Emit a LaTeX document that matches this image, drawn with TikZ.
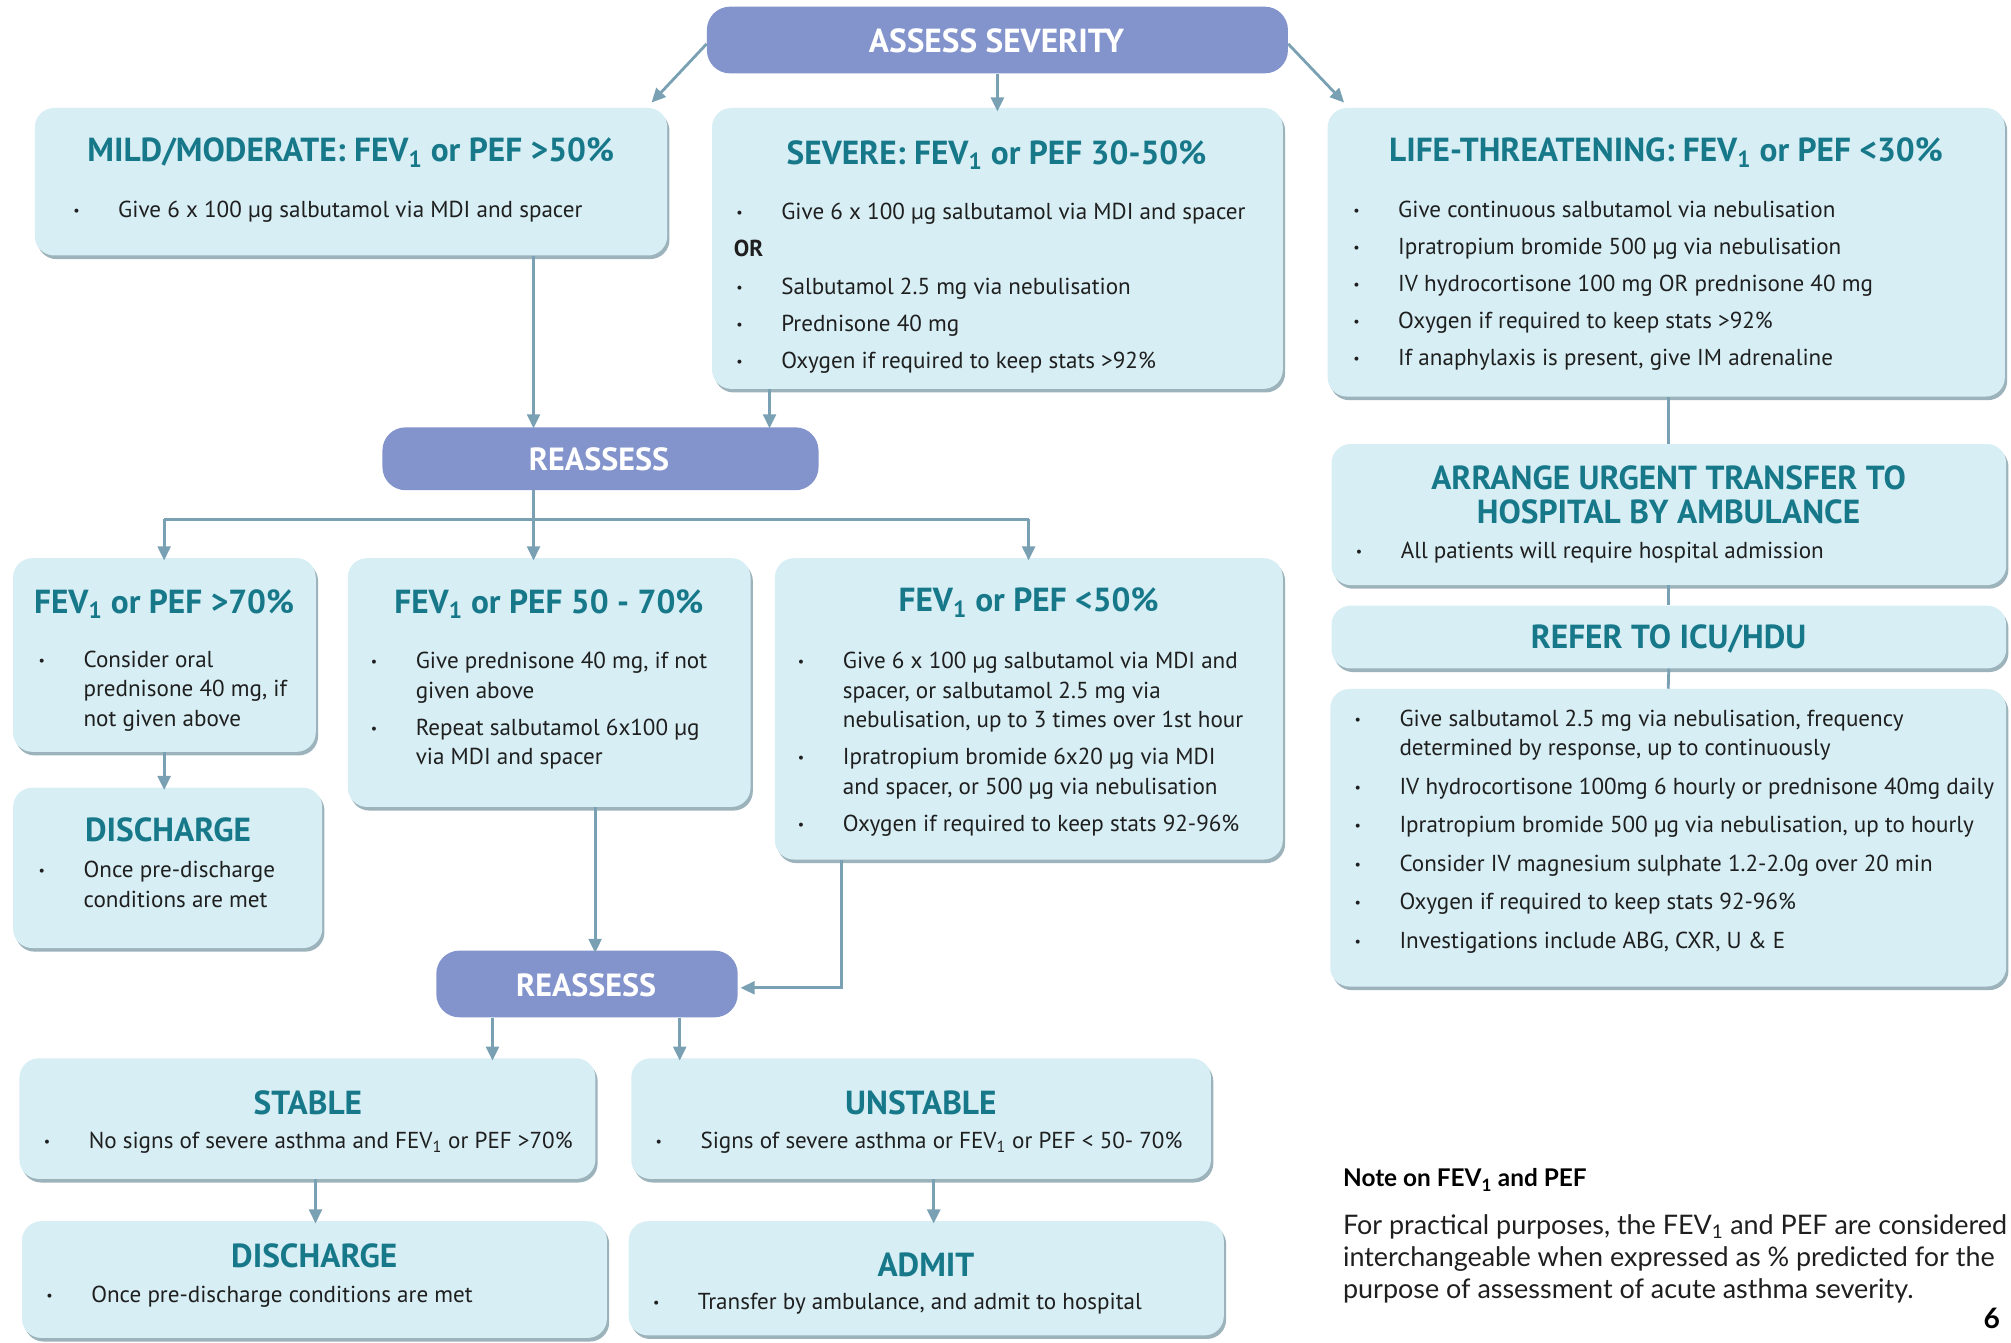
\documentclass[tikz,border=0pt]{standalone}
\usepackage{fontspec}
\setmainfont{PT Sans}
\newfontfamily\bodyf{PT Sans}
\newfontfamily\headf{PT Sans}
\newfontfamily\notef{Lato}
\usetikzlibrary{arrows.meta,shadows}
\definecolor{boxfill}{HTML}{D6EEF4}
\definecolor{shadowcol}{HTML}{9DB3BB}
\definecolor{titlecol}{HTML}{17788A}
\definecolor{purp}{HTML}{8394CC}
\definecolor{arrowcol}{HTML}{7AA1B3}
\definecolor{textcol}{HTML}{1F1F1F}
\newcommand\bi{\strut\makebox[35pt][l]{\raisebox{1.5pt}{\fontsize{11}{11}\selectfont\textbullet}}}
\newcommand\ci{\strut\hspace*{35pt}}
\tikzset{
 box/.style={fill=boxfill, rounded corners=15pt, anchor=north west, inner sep=0pt,
   drop shadow={shadow xshift=1.8pt, shadow yshift=-2.8pt, fill=shadowcol, opacity=1}},
 pbox/.style={fill=purp, rounded corners=18pt, anchor=north west, inner sep=0pt},
 ttl/.style={anchor=base, inner sep=0pt, text=titlecol, font=\headf\bfseries\fontsize{26}{28}\selectfont},
 ptl/.style={anchor=base, inner sep=0pt, text=white, font=\headf\bfseries\fontsize{26}{28}\selectfont},
 lst/.style={anchor=north west, inner sep=0pt, align=left, text=textcol, font=\bodyf\fontsize{18}{23}\selectfont},
 conn/.style={draw=arrowcol, line width=2.2pt},
 arr/.style={conn, -{Triangle[length=11pt,width=10pt]}},
}
\begin{document}
\begin{tikzpicture}[x=1pt,y=-1pt]
\fill[white] (0,0) rectangle (1568,1047);
\useasboundingbox (0,0) rectangle (1568,1047);

% ---------- boxes ----------
\node[pbox, minimum width=453pt, minimum height=52pt] (assess) at (551,5) {};
\node[box, minimum width=493pt, minimum height=115pt] (mild) at (27,84) {};
\node[box, minimum width=445pt, minimum height=219pt] (severe) at (555,84) {};
\node[box, minimum width=528pt, minimum height=225pt] (life) at (1035,84) {};
\node[pbox, minimum width=340pt, minimum height=49pt] (reass1) at (298,333) {};
\node[box, minimum width=526pt, minimum height=110pt] (arrange) at (1038,346) {};
\node[box, minimum width=526pt, minimum height=49pt] (refer) at (1038,472) {};
\node[box, minimum width=527pt, minimum height=232pt] (icu) at (1037,537) {};
\node[box, minimum width=236pt, minimum height=151pt] (f70) at (10,435) {};
\node[box, minimum width=314pt, minimum height=194pt] (f5070) at (271,435) {};
\node[box, minimum width=396pt, minimum height=235pt] (f50) at (604,435) {};
\node[box, minimum width=241pt, minimum height=125pt] (dis1) at (10,614) {};
\node[pbox, minimum width=235pt, minimum height=52pt] (reass2) at (340,741) {};
\node[box, minimum width=449pt, minimum height=94pt] (stable) at (15,825) {};
\node[box, minimum width=452pt, minimum height=94pt] (unstable) at (492,825) {};
\node[box, minimum width=456pt, minimum height=91pt] (dis2) at (17,952) {};
\node[box, minimum width=464pt, minimum height=89pt] (admit) at (490,952) {};

% ---------- purple titles ----------
\node[ptl] (assess-t) at (777,41) {ASSESS SEVERITY};
\node[ptl, font=\headf\bfseries\fontsize{25}{27}\selectfont] (reass1-t) at (467,367) {REASSESS};
\node[ptl, font=\headf\bfseries\fontsize{25}{27}\selectfont] (reass2-t) at (457,777) {REASSESS};

% ---------- titles ----------
\node[ttl] (mild-t) at (273.5,126) {MILD/MODERATE: FEV\textsubscript{1} or PEF >50\%};
\node[ttl] (severe-t) at (777,128) {SEVERE: FEV\textsubscript{1} or PEF 30-50\%};
\node[ttl] (life-t) at (1299,126) {LIFE-THREATENING: FEV\textsubscript{1} or PEF <30\%};
\node[ttl] (arrange-t1) at (1301,382) {ARRANGE URGENT TRANSFER TO};
\node[ttl] (arrange-t2) at (1301,408) {HOSPITAL BY AMBULANCE};
\node[ttl] (refer-t) at (1301,506) {REFER TO ICU/HDU};
\node[ttl] (f70-t) at (128,478) {FEV\textsubscript{1} or PEF >70\%};
\node[ttl] (f5070-t) at (428,478) {FEV\textsubscript{1} or PEF 50 - 70\%};
\node[ttl] (f50-t) at (802,477) {FEV\textsubscript{1} or PEF <50\%};
\node[ttl] (dis1-t) at (131,656) {DISCHARGE};
\node[ttl] (stable-t) at (240,869) {STABLE};
\node[ttl] (unstable-t) at (718,869) {UNSTABLE};
\node[ttl] (dis2-t) at (245,988) {DISCHARGE};
\node[ttl] (admit-t) at (722,995) {ADMIT};

% ---------- lists ----------
\node[lst] (mild-l) at (57,153) {\bi Give 6 x 100 µg salbutamol via MDI and spacer};
\node[lst] (severe-l) at (574,155) {\bi Give 6 x 100 µg salbutamol via MDI and spacer\\[6pt]
 \strut\hspace*{-2pt}{\bfseries OR}\\[6pt]
 \bi Salbutamol 2.5 mg via nebulisation\\[6pt]
 \bi Prednisone 40 mg\\[6pt]
 \bi Oxygen if required to keep stats >92\%};
\node[lst] (life-l) at (1055,153) {\bi Give continuous salbutamol via nebulisation\\[6pt]
 \bi Ipratropium bromide 500 µg via nebulisation\\[6pt]
 \bi IV hydrocortisone 100 mg OR prednisone 40 mg\\[6pt]
 \bi Oxygen if required to keep stats >92\%\\[6pt]
 \bi If anaphylaxis is present, give IM adrenaline};
\node[lst] (arrange-l) at (1057,419) {\bi All patients will require hospital admission};
\node[lst] (icu-l) at (1056,550) {\bi Give salbutamol 2.5 mg via nebulisation, frequency\\
 \ci determined by response, up to continuously\\[7pt]
 \bi IV hydrocortisone 100mg 6 hourly or prednisone 40mg daily\\[7pt]
 \bi Ipratropium bromide 500 µg via nebulisation, up to hourly\\[7pt]
 \bi Consider IV magnesium sulphate 1.2-2.0g over 20 min\\[7pt]
 \bi Oxygen if required to keep stats 92-96\%\\[7pt]
 \bi Investigations include ABG, CXR, U \& E};
\node[lst] (f70-l) at (30,504) {\bi Consider oral\\ \ci prednisone 40 mg, if\\ \ci not given above};
\node[lst] (f5070-l) at (289,505) {\bi Give prednisone 40 mg, if not\\ \ci given above\\[6pt]
 \bi Repeat salbutamol 6x100 µg\\ \ci via MDI and spacer};
\node[lst] (f50-l) at (622,505) {\bi Give 6 x 100 µg salbutamol via MDI and\\
 \ci spacer, or salbutamol 2.5 mg via\\
 \ci nebulisation, up to 3 times over 1st hour\\[6pt]
 \bi Ipratropium bromide 6x20 µg via MDI\\
 \ci and spacer, or 500 µg via nebulisation\\[6pt]
 \bi Oxygen if required to keep stats 92-96\%};
\node[lst] (dis1-l) at (30,668) {\bi Once pre-discharge\\ \ci conditions are met};
\node[lst] (stable-l) at (34,879) {\bi No signs of severe asthma and FEV\textsubscript{1} or PEF >70\%};
\node[lst] (unstable-l) at (511,879) {\bi Signs of severe asthma or FEV\textsubscript{1} or PEF < 50- 70\%};
\node[lst] (dis2-l) at (36,999) {\bi Once pre-discharge conditions are met};
\node[lst] (admit-l) at (509,1005) {\bi Transfer by ambulance, and admit to hospital};

% ---------- note ----------
\node[anchor=base west, inner sep=0pt, text=black, font=\notef\bfseries\fontsize{19}{23}\selectfont] (note-h) at (1047,925) {Note on FEV\textsubscript{1} and PEF};
\node[anchor=north west, inner sep=0pt, align=left, text=textcol, font=\notef\fontsize{21}{25}\selectfont] (note-p) at (1047,944.5)
 {\strut For practical purposes, the FEV\textsubscript{1} and PEF are considered\\
  \strut interchangeable when expressed as \% predicted for the\\
  \strut purpose of assessment of acute asthma severity.};
\node[anchor=base, inner sep=0pt, text=black, font=\notef\bfseries\fontsize{22}{24}\selectfont] (page) at (1553,1036) {6};

% ---------- connectors ----------
\coordinate (dL) at (508,80);
\coordinate (dR) at (1048,80);
\coordinate (x416) at (416,0);
\coordinate (x600) at (600,0);
\coordinate (b1) at (128,405);
\coordinate (b2) at (416,405);
\coordinate (b3) at (802,405);
\coordinate (x464) at (464,0);
\coordinate (x656) at (656,0);
\coordinate (x384) at (384,0);
\coordinate (x530) at (530,0);
\coordinate (x246) at (246,0);
\coordinate (x728) at (728,0);

\draw[arr] ([yshift=-3pt]assess.west) -- (dL);
\draw[arr] ([yshift=-3pt]assess.east) -- (dR);
\draw[arr] (assess.south) -- ([yshift=-3pt]severe.north);
\draw[arr] (mild.south -| x416) -- ([yshift=-1pt]reass1.north -| x416);
\draw[arr] (severe.south -| x600) -- ([yshift=-1pt]reass1.north -| x600);
\draw[conn] (reass1.south -| b2) -- (b2);
\draw[conn] (b1) -- (b3);
\draw[arr] (b1) -- ([yshift=-2pt]f70.north -| b1);
\draw[arr] (b2) -- ([yshift=-2pt]f5070.north -| b2);
\draw[arr] (b3) -- ([yshift=-2pt]f50.north -| b3);
\draw[conn] (life.south -| arrange.north) -- (arrange.north);
\draw[conn] (arrange.south) -- (refer.north);
\draw[conn] (refer.south) -- (icu.north);
\draw[arr] (f70.south -| b1) -- ([yshift=-2pt]dis1.north -| b1);
\draw[arr] (f5070.south -| x464) -- ([yshift=-2pt]reass2.north -| x464);
\draw[arr] (f50.south -| x656) |- ([xshift=2pt,yshift=-3pt]reass2.east);
\draw[arr] (reass2.south -| x384) -- ([yshift=-2pt]stable.north -| x384);
\draw[arr] (reass2.south -| x530) -- ([yshift=-2pt]unstable.north -| x530);
\draw[arr] (stable.south -| x246) -- ([yshift=-2pt]dis2.north -| x246);
\draw[arr] (unstable.south -| x728) -- ([yshift=-2pt]admit.north -| x728);
\end{tikzpicture}
\end{document}
